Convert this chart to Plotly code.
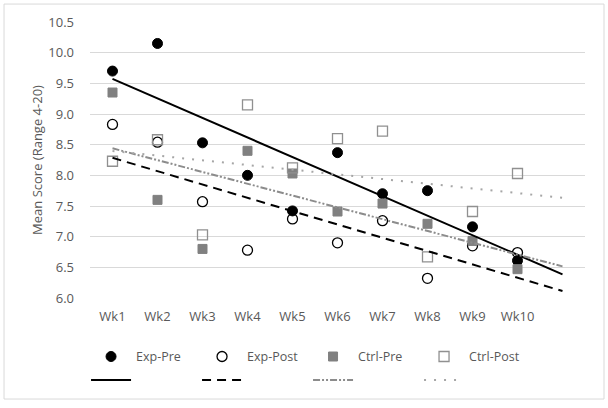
import numpy as np
import plotly.graph_objects as go

weeks = ["Wk1", "Wk2", "Wk3", "Wk4", "Wk5", "Wk6", "Wk7", "Wk8", "Wk9", "Wk10"]
exp_pre = [9.70, 10.15, 8.53, 8.00, 7.42, 8.37, 7.70, 7.75, 7.16, 6.61]
exp_post = [8.83, 8.54, 7.57, 6.78, 7.29, 6.90, 7.26, 6.32, 6.85, 6.74]
ctrl_pre = [9.35, 7.60, 6.80, 8.40, 8.03, 7.41, 7.54, 7.21, 6.93, 6.47]
ctrl_post = [8.23, 8.58, 7.03, 9.15, 8.12, 8.60, 8.72, 6.67, 7.41, 8.03]
series_names = ["Exp-Pre", "Exp-Post", "Ctrl-Pre", "Ctrl-Post"]
forecast_forward = 1

FONT = "Open Sans"
TXT = "#595959"
GRID = "#d9d9d9"

x = np.arange(1, len(weeks) + 1)
all_series = [exp_pre, exp_post, ctrl_pre, ctrl_post]

marker_styles = [
    dict(symbol="circle", size=10, color="black", line=dict(color="black", width=1)),
    dict(symbol="circle-open", size=10, color="black", line=dict(color="black", width=1.3)),
    dict(symbol="square", size=9, color="#808080", line=dict(color="#808080", width=1)),
    dict(symbol="square-open", size=10, color="#909090", line=dict(color="#909090", width=1.3)),
]
line_styles = [
    dict(color="black", width=2, dash="solid"),
    dict(color="black", width=2, dash="9px,6px"),
    dict(color="#8c8c8c", width=2, dash="7px,2px,2px,2px,2px,2px"),
    dict(color="#a6a6a6", width=2, dash="2px,8px"),
]

fig = go.Figure()
for name, ys, ms in zip(series_names, all_series, marker_styles):
    fig.add_trace(go.Scatter(x=x, y=ys, mode="markers", name=name, marker=ms,
                             legend="legend"))

for name, ys, ls in zip(series_names, all_series, line_styles):
    slope, intercept = np.polyfit(x, ys, 1)
    xt = np.array([x[0], x[-1] + forecast_forward])
    fig.add_trace(go.Scatter(x=xt, y=slope * xt + intercept, mode="lines",
                             name=" ", line=ls, legend="legend2",
                             hoverinfo="skip"))

leg_common = dict(orientation="h", x=-0.008, xanchor="left", yanchor="top",
                  entrywidth=56, entrywidthmode="pixels", itemwidth=40,
                  font=dict(size=12.5, color=TXT), bgcolor="rgba(0,0,0,0)")

fig.update_layout(
    width=608, height=408,
    margin=dict(l=90, r=23, t=22, b=110),
    paper_bgcolor="white", plot_bgcolor="white",
    font=dict(family=FONT, size=13, color=TXT),
    xaxis=dict(range=[0.5, len(weeks) + 1.5], tickvals=list(x), ticktext=weeks,
               showgrid=False, zeroline=False, showline=False, automargin=False,
               ticks="", ticklabelstandoff=9, tickfont=dict(size=13, color=TXT)),
    yaxis=dict(range=[6.0, 10.5], dtick=0.5, tickformat=".1f", automargin=False,
               showgrid=True, gridcolor=GRID, gridwidth=1, zeroline=False,
               showline=False, ticks="", ticklabelstandoff=15,
               tickfont=dict(size=13, color=TXT),
               title=dict(text="Mean Score (Range 4-20)", font=dict(size=13, color=TXT),
                          standoff=2)),
    legend=dict(leg_common, y=-0.159),
    legend2=dict(leg_common, y=-0.244),
    shapes=[dict(type="rect", xref="paper", yref="paper",
                 x0=-0.1737, x1=1.0384, y0=-0.366, y1=1.065,
                 line=dict(color=GRID, width=1), fillcolor="rgba(0,0,0,0)", layer="below")],
    showlegend=True,
)

fig.write_html("out.html", config={"displayModeBar": False},
               post_script="document.body.style.margin='0';")
